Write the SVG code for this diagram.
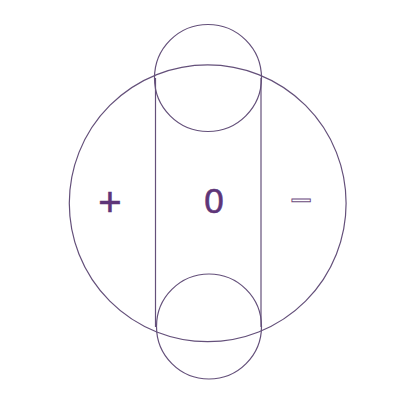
<svg xmlns="http://www.w3.org/2000/svg" width="403" height="414" viewBox="0 0 403 414">
<style>
.ln{fill:none;stroke:#64507a;stroke-width:1.2}
.t{font-family:"Liberation Sans",Arial,sans-serif;fill:#5e3578;stroke:#5e3578;stroke-width:0.6;text-anchor:middle}
</style>
<rect width="403" height="414" fill="#fff"/>
<g id="connectors">
<line class="ln" x1="155.5" y1="78" x2="155.5" y2="327"/>
<line class="ln" x1="261" y1="78" x2="261" y2="327"/>
</g>
<g id="big-circle"><circle class="ln" cx="207.7" cy="203.3" r="138.4"/></g>
<g id="top-circle"><circle class="ln" cx="208" cy="78" r="53.5"/></g>
<g id="bottom-circle"><circle class="ln" cx="209" cy="326.5" r="52.5"/></g>
<g id="plus"><text class="t" x="110" y="215.5" font-size="40">+</text></g>
<g id="zero"><text class="t" x="214" y="213" font-size="35">0</text></g>
<g id="minus"><text class="t" x="301" y="213" font-size="38" style="fill:#fff;stroke:#6b4a80;stroke-width:0.9">−</text></g>
</svg>
